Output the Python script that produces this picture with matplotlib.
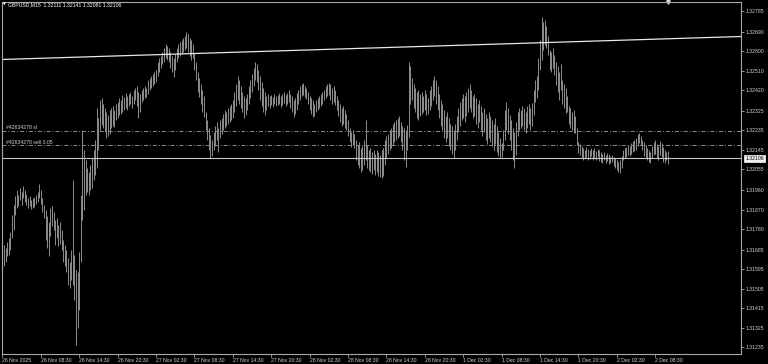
"""
GBPUSD M15 bar chart, MT4 look: black background, grey HL bars,
trend line, order levels (sl / entry) and the bid line.
"""
import matplotlib
matplotlib.use("Agg")
import matplotlib.pyplot as plt
import numpy as np

SYMBOL = "GBPUSD,M15"
LAST_OHLC = [1.32111, 1.32141, 1.32081, 1.32106]   # header + bid line
ORDER_ID = "#42634278"
ORDER_SL = 1.32233
ORDER_OPEN = 1.32166
ORDER_LOTS = 0.05

# 15-minute bars, 26 Nov 2025 .. 2 Dec 2025
high = [
    1.31730, 1.31707, 1.31693, 1.31720, 1.31739, 1.31766, 1.31845, 1.31891, 1.31932, 1.31960,
    1.31937, 1.31969, 1.31951, 1.31979, 1.31960, 1.31942, 1.31923, 1.31932, 1.31914, 1.31923,
    1.31928, 1.31937, 1.31951, 1.31988, 1.31960, 1.31923, 1.31891, 1.31868, 1.31840, 1.31813,
    1.31877, 1.31886, 1.31859, 1.31822, 1.31831, 1.31799, 1.31813, 1.31776, 1.31730, 1.31707,
    1.31683, 1.31647, 1.31628, 1.31683, 1.32006, 1.31660, 1.31591, 1.31582, 1.31674, 1.31937,
    1.32237, 1.32145, 1.32098, 1.32061, 1.32043, 1.32075, 1.32108, 1.32145, 1.32191, 1.32338,
    1.32292, 1.32375, 1.32384, 1.32357, 1.32338, 1.32320, 1.32306, 1.32329, 1.32338, 1.32347,
    1.32329, 1.32357, 1.32366, 1.32384, 1.32375, 1.32398, 1.32389, 1.32407, 1.32393, 1.32403,
    1.32412, 1.32393, 1.32421, 1.32430, 1.32440, 1.32412, 1.32403, 1.32421, 1.32430, 1.32440,
    1.32430, 1.32467, 1.32476, 1.32486, 1.32495, 1.32504, 1.32513, 1.32550, 1.32569, 1.32578,
    1.32596, 1.32615, 1.32633, 1.32624, 1.32615, 1.32596, 1.32578, 1.32569, 1.32587, 1.32615,
    1.32633, 1.32642, 1.32652, 1.32661, 1.32670, 1.32688, 1.32679, 1.32661, 1.32652, 1.32633,
    1.32592, 1.32550, 1.32504, 1.32476, 1.32449, 1.32421, 1.32393, 1.32320, 1.32283, 1.32246,
    1.32214, 1.32191, 1.32228, 1.32255, 1.32274, 1.32246, 1.32283, 1.32292, 1.32310, 1.32329,
    1.32320, 1.32338, 1.32347, 1.32357, 1.32375, 1.32412, 1.32449, 1.32486, 1.32467, 1.32440,
    1.32412, 1.32393, 1.32384, 1.32403, 1.32440, 1.32467, 1.32495, 1.32522, 1.32550, 1.32541,
    1.32513, 1.32486, 1.32458, 1.32430, 1.32412, 1.32393, 1.32403, 1.32393, 1.32398, 1.32389,
    1.32403, 1.32393, 1.32398, 1.32407, 1.32393, 1.32403, 1.32412, 1.32398, 1.32407, 1.32421,
    1.32403, 1.32393, 1.32375, 1.32384, 1.32407, 1.32421, 1.32440, 1.32449, 1.32453, 1.32440,
    1.32430, 1.32412, 1.32393, 1.32384, 1.32375, 1.32357, 1.32375, 1.32384, 1.32393, 1.32403,
    1.32412, 1.32421, 1.32440, 1.32449, 1.32453, 1.32449, 1.32430, 1.32440, 1.32421, 1.32393,
    1.32375, 1.32357, 1.32338, 1.32347, 1.32329, 1.32310, 1.32283, 1.32246, 1.32228, 1.32237,
    1.32218, 1.32191, 1.32168, 1.32181, 1.32154, 1.32163, 1.32191, 1.32283, 1.32168, 1.32145,
    1.32154, 1.32135, 1.32145, 1.32126, 1.32145, 1.32135, 1.32121, 1.32145, 1.32154, 1.32191,
    1.32209, 1.32218, 1.32237, 1.32246, 1.32264, 1.32274, 1.32283, 1.32292, 1.32301, 1.32274,
    1.32255, 1.32246, 1.32237, 1.32260, 1.32550, 1.32532, 1.32476, 1.32449, 1.32430, 1.32412,
    1.32421, 1.32403, 1.32412, 1.32393, 1.32421, 1.32403, 1.32384, 1.32421, 1.32440, 1.32467,
    1.32486, 1.32467, 1.32440, 1.32403, 1.32375, 1.32357, 1.32329, 1.32301, 1.32320, 1.32292,
    1.32264, 1.32255, 1.32237, 1.32264, 1.32301, 1.32338, 1.32366, 1.32384, 1.32403, 1.32393,
    1.32412, 1.32430, 1.32449, 1.32421, 1.32393, 1.32403, 1.32384, 1.32357, 1.32375, 1.32347,
    1.32320, 1.32338, 1.32310, 1.32292, 1.32320, 1.32301, 1.32283, 1.32264, 1.32292, 1.32255,
    1.32228, 1.32200, 1.32177, 1.32237, 1.32329, 1.32366, 1.32338, 1.32306, 1.32283, 1.32246,
    1.32228, 1.32274, 1.32320, 1.32338, 1.32329, 1.32347, 1.32338, 1.32320, 1.32347, 1.32357,
    1.32338, 1.32361, 1.32421, 1.32467, 1.32486, 1.32569, 1.32652, 1.32758, 1.32735, 1.32744,
    1.32716, 1.32670, 1.32605, 1.32596, 1.32615, 1.32582, 1.32550, 1.32532, 1.32504, 1.32541,
    1.32467, 1.32449, 1.32430, 1.32393, 1.32347, 1.32338, 1.32320, 1.32329, 1.32301, 1.32246,
    1.32181, 1.32172, 1.32163, 1.32154, 1.32145, 1.32158, 1.32149, 1.32145, 1.32154, 1.32145,
    1.32154, 1.32140, 1.32149, 1.32145, 1.32135, 1.32126, 1.32135, 1.32121, 1.32131, 1.32126,
    1.32117, 1.32121, 1.32112, 1.32108, 1.32098, 1.32089, 1.32098, 1.32117, 1.32145, 1.32154,
    1.32158, 1.32168, 1.32163, 1.32177, 1.32186, 1.32191, 1.32200, 1.32218, 1.32223, 1.32209,
    1.32191, 1.32181, 1.32168, 1.32154, 1.32145, 1.32135, 1.32163, 1.32181, 1.32191, 1.32172,
    1.32163, 1.32186, 1.32177, 1.32158, 1.32145, 1.32135, 1.32141,
]
low = [
    1.31628, 1.31610, 1.31628, 1.31656, 1.31660, 1.31683, 1.31739, 1.31776, 1.31845, 1.31877,
    1.31886, 1.31914, 1.31891, 1.31923, 1.31905, 1.31891, 1.31877, 1.31886, 1.31872, 1.31877,
    1.31882, 1.31896, 1.31905, 1.31923, 1.31896, 1.31859, 1.31831, 1.31730, 1.31693, 1.31656,
    1.31748, 1.31794, 1.31776, 1.31707, 1.31739, 1.31702, 1.31711, 1.31683, 1.31628, 1.31610,
    1.31582, 1.31522, 1.31508, 1.31545, 1.31522, 1.31453, 1.31246, 1.31324, 1.31407, 1.31628,
    1.31822, 1.31868, 1.31937, 1.31951, 1.31937, 1.31960, 1.31969, 1.32006, 1.32029, 1.32061,
    1.32145, 1.32237, 1.32260, 1.32246, 1.32228, 1.32200, 1.32209, 1.32218, 1.32246, 1.32255,
    1.32251, 1.32283, 1.32292, 1.32306, 1.32310, 1.32320, 1.32329, 1.32338, 1.32329, 1.32347,
    1.32357, 1.32338, 1.32357, 1.32375, 1.32347, 1.32292, 1.32320, 1.32366, 1.32375, 1.32384,
    1.32389, 1.32403, 1.32421, 1.32430, 1.32440, 1.32449, 1.32458, 1.32486, 1.32504, 1.32522,
    1.32541, 1.32550, 1.32569, 1.32559, 1.32550, 1.32522, 1.32504, 1.32481, 1.32513, 1.32550,
    1.32569, 1.32578, 1.32587, 1.32596, 1.32605, 1.32615, 1.32596, 1.32578, 1.32559, 1.32569,
    1.32513, 1.32467, 1.32412, 1.32389, 1.32357, 1.32320, 1.32297, 1.32237, 1.32191, 1.32145,
    1.32108, 1.32117, 1.32145, 1.32163, 1.32191, 1.32135, 1.32200, 1.32218, 1.32237, 1.32246,
    1.32255, 1.32264, 1.32274, 1.32283, 1.32292, 1.32320, 1.32347, 1.32375, 1.32357, 1.32338,
    1.32320, 1.32292, 1.32306, 1.32329, 1.32357, 1.32384, 1.32412, 1.32440, 1.32467, 1.32458,
    1.32421, 1.32375, 1.32347, 1.32320, 1.32306, 1.32329, 1.32347, 1.32338, 1.32352, 1.32343,
    1.32357, 1.32347, 1.32352, 1.32357, 1.32343, 1.32352, 1.32361, 1.32347, 1.32357, 1.32366,
    1.32338, 1.32320, 1.32297, 1.32310, 1.32329, 1.32357, 1.32375, 1.32393, 1.32398, 1.32389,
    1.32380, 1.32357, 1.32329, 1.32310, 1.32297, 1.32301, 1.32320, 1.32329, 1.32338, 1.32347,
    1.32357, 1.32375, 1.32384, 1.32393, 1.32398, 1.32375, 1.32357, 1.32366, 1.32352, 1.32329,
    1.32301, 1.32274, 1.32255, 1.32264, 1.32246, 1.32237, 1.32209, 1.32181, 1.32158, 1.32168,
    1.32154, 1.32098, 1.32075, 1.32061, 1.32043, 1.32052, 1.32075, 1.32098, 1.32061, 1.32052,
    1.32043, 1.32034, 1.32052, 1.32029, 1.32043, 1.32025, 1.32020, 1.32015, 1.32025, 1.32075,
    1.32108, 1.32126, 1.32145, 1.32154, 1.32168, 1.32181, 1.32191, 1.32200, 1.32209, 1.32181,
    1.32145, 1.32098, 1.32066, 1.32145, 1.32204, 1.32357, 1.32375, 1.32338, 1.32320, 1.32292,
    1.32283, 1.32301, 1.32310, 1.32320, 1.32329, 1.32306, 1.32310, 1.32329, 1.32347, 1.32375,
    1.32393, 1.32357, 1.32329, 1.32292, 1.32255, 1.32237, 1.32200, 1.32181, 1.32200, 1.32163,
    1.32145, 1.32126, 1.32108, 1.32145, 1.32191, 1.32228, 1.32255, 1.32283, 1.32292, 1.32274,
    1.32301, 1.32320, 1.32338, 1.32320, 1.32292, 1.32301, 1.32264, 1.32246, 1.32274, 1.32237,
    1.32209, 1.32228, 1.32191, 1.32172, 1.32200, 1.32181, 1.32163, 1.32145, 1.32172, 1.32135,
    1.32117, 1.32108, 1.32112, 1.32145, 1.32191, 1.32237, 1.32218, 1.32191, 1.32145, 1.32098,
    1.32061, 1.32121, 1.32209, 1.32237, 1.32246, 1.32255, 1.32237, 1.32223, 1.32246, 1.32264,
    1.32237, 1.32255, 1.32306, 1.32366, 1.32384, 1.32421, 1.32513, 1.32559, 1.32605, 1.32629,
    1.32615, 1.32582, 1.32513, 1.32504, 1.32522, 1.32490, 1.32444, 1.32412, 1.32375, 1.32421,
    1.32357, 1.32338, 1.32315, 1.32320, 1.32264, 1.32246, 1.32237, 1.32223, 1.32223, 1.32168,
    1.32131, 1.32121, 1.32108, 1.32098, 1.32108, 1.32112, 1.32098, 1.32103, 1.32117, 1.32098,
    1.32108, 1.32098, 1.32112, 1.32094, 1.32089, 1.32085, 1.32098, 1.32085, 1.32094, 1.32080,
    1.32085, 1.32089, 1.32071, 1.32061, 1.32052, 1.32043, 1.32038, 1.32061, 1.32098, 1.32108,
    1.32112, 1.32121, 1.32117, 1.32126, 1.32135, 1.32140, 1.32145, 1.32163, 1.32177, 1.32168,
    1.32145, 1.32117, 1.32108, 1.32098, 1.32089, 1.32085, 1.32108, 1.32121, 1.32126, 1.32108,
    1.32098, 1.32121, 1.32112, 1.32089, 1.32085, 1.32098, 1.32081,
]

# time axis labels, one every 24 bars (6 hours)
time_labels = [
    "26 Nov 2025", "26 Nov 08:30", "26 Nov 14:30", "26 Nov 20:30",
    "27 Nov 02:30", "27 Nov 08:30", "27 Nov 14:30", "27 Nov 20:30",
    "28 Nov 02:30", "28 Nov 08:30", "28 Nov 14:30", "28 Nov 20:30",
    "1 Dec 02:30", "1 Dec 08:30", "1 Dec 14:30", "1 Dec 20:30",
    "2 Dec 02:30", "2 Dec 08:30",
]
BARS_PER_LABEL = 24
price_ticks = [
    1.32785, 1.32690, 1.32600, 1.32510, 1.32420, 1.32325, 1.32235, 1.32145, 1.32055,
    1.31960, 1.31870, 1.31780, 1.31685, 1.31595, 1.31505, 1.31415, 1.31325, 1.31235,
]

# trend line anchors (bar index, price)
trend_bars = [0, 462]
trend_prices = [1.32562, 1.32668]

BG = "black"
BAR_COLOR = "#a4a4a4"
FRAME = "#a8a8a8"
TEXT = "#d4d4d4"
FS = 3.7

plt.rcParams["font.family"] = ["Liberation Sans", "DejaVu Sans"]

assert len(high) == len(low)
idx = np.arange(len(high))

W, H = 768, 364
fig = plt.figure(figsize=(W / 100, H / 100), dpi=100, facecolor=BG)
ax = fig.add_axes([2 / W, 10 / H, 739 / W, 352 / H], facecolor=BG)

ax.vlines(idx, low, high, colors=BAR_COLOR, linewidth=0.6)

ax.plot(trend_bars, trend_prices, color="#e8e8e8", linewidth=0.9)

dashdot = (0, (4.1, 2.0, 1.0, 2.0))
for lvl in (ORDER_SL, ORDER_OPEN):
    ax.axhline(lvl, color="#8c8c8c", linewidth=0.7, linestyle=dashdot)
ax.text(2, ORDER_SL + 0.00003, f"{ORDER_ID} sl", color=TEXT, fontsize=FS,
        va="bottom", ha="left")
ax.text(2, ORDER_OPEN + 0.00003, f"{ORDER_ID} sell {ORDER_LOTS:.2f}", color=TEXT,
        fontsize=FS, va="bottom", ha="left")

bid = LAST_OHLC[3]
ax.axhline(bid, color="#c8c8c8", linewidth=0.8)

ax.set_xlim(-0.3, 461.6)
ax.set_ylim(1.31204, 1.32827)

# price scale on the right
ax.yaxis.tick_right()
ax.set_yticks(price_ticks)
ax.set_yticklabels([f"{p:.5f}" for p in price_ticks])
ax.tick_params(axis="y", colors=FRAME, labelcolor=TEXT, labelsize=FS,
               length=2, width=0.6, pad=1.2)

ax.set_xticks(np.arange(len(time_labels)) * BARS_PER_LABEL)
ax.set_xticklabels(time_labels, ha="left")
ax.tick_params(axis="x", colors=FRAME, labelcolor=TEXT, labelsize=FS,
               length=2, width=0.6, pad=0.8)

for s in ax.spines.values():
    s.set_color(FRAME)
    s.set_linewidth(0.8)

# bid price box on the scale
ax.annotate(f"{bid:.5f}", xy=(1.0, bid), xycoords=("axes fraction", "data"),
            xytext=(3, 0), textcoords="offset points", fontsize=FS,
            color="black", va="center", ha="left",
            bbox=dict(boxstyle="square,pad=0.25", fc="#f0f0f0", ec="white", lw=0.5),
            annotation_clip=False)

# chart shift marker at the top
ax.plot([idx[-1]], [ax.get_ylim()[1]], marker="v", markersize=2.5,
        color="#e0e0e0", clip_on=False, linestyle="none")

# header
fig.text(2.5 / W, 1 - 5 / H, "\u25bc", color="white", fontsize=2.6,
         va="center", ha="left", family="DejaVu Sans")
header = SYMBOL + "  " + " ".join(f"{v:.5f}" for v in LAST_OHLC)
fig.text(8 / W, 1 - 5 / H, header, color="white", fontsize=FS,
         va="center", ha="left")

fig.savefig("out.png", dpi=100, facecolor=BG)
